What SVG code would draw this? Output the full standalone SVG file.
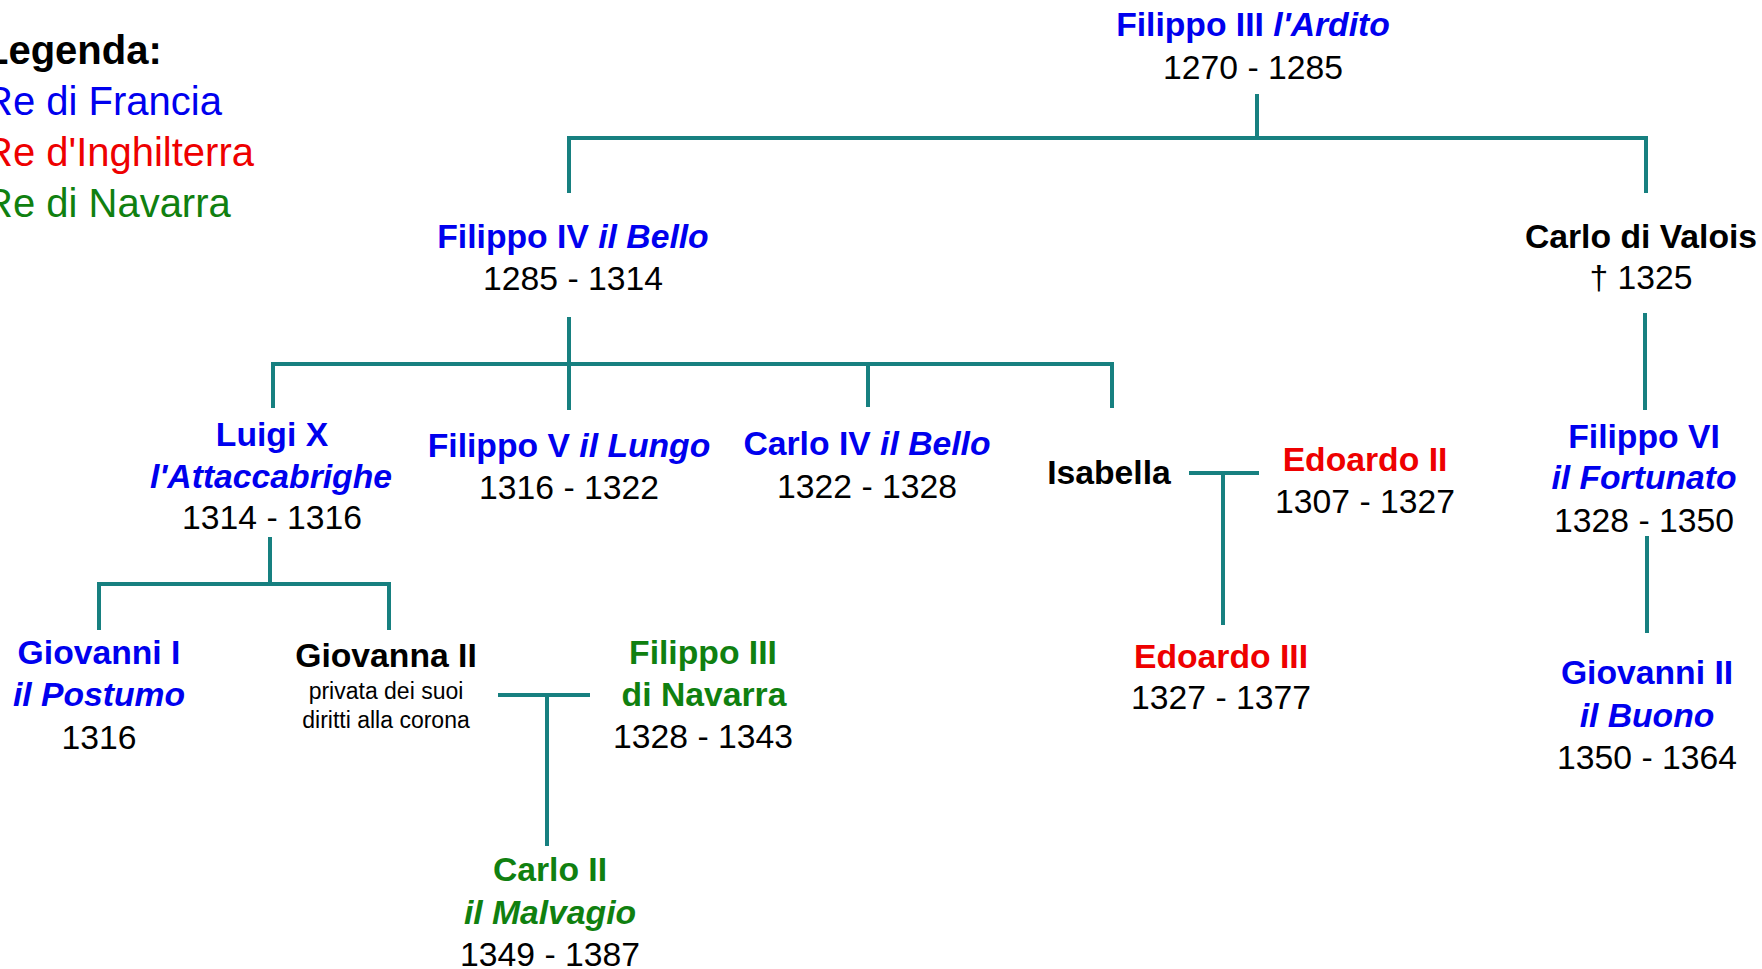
<svg xmlns="http://www.w3.org/2000/svg" width="1762" height="969" viewBox="0 0 1762 969">
<style>
text{font-family:"Liberation Sans",Arial,sans-serif;font-size:33.7px;fill:#000}
.c{text-anchor:middle}
.n{font-weight:bold}
.i{font-style:italic}
.fr{fill:#0000ee}
.en{fill:#ee0000}
.na{fill:#108010}
.sm{font-size:23px}
.lg{font-size:40px}
#connectors line{stroke:#178080;stroke-width:4;fill:none}
</style>
<rect width="1762" height="969" fill="#fff"/>
<g id="legend">
<text class="lg n" x="-16" y="64">Legenda:</text>
<text class="lg fr" x="-16" y="115">Re di Francia</text>
<text class="lg en" x="-16" y="166">Re d'Inghilterra</text>
<text class="lg na" x="-16" y="217">Re di Navarra</text>
</g>
<g id="connectors">
<line x1="1257" y1="94" x2="1257" y2="138"/>
<line x1="567" y1="138" x2="1648" y2="138"/>
<line x1="569" y1="136" x2="569" y2="193"/>
<line x1="1646" y1="136" x2="1646" y2="193"/>
<line x1="569" y1="317" x2="569" y2="410"/>
<line x1="271" y1="364" x2="1114" y2="364"/>
<line x1="273" y1="362" x2="273" y2="408"/>
<line x1="868" y1="364" x2="868" y2="407"/>
<line x1="1112" y1="362" x2="1112" y2="408"/>
<line x1="1645" y1="313" x2="1645" y2="410"/>
<line x1="1189" y1="473" x2="1259" y2="473"/>
<line x1="1223" y1="473" x2="1223" y2="625"/>
<line x1="1647" y1="536" x2="1647" y2="633"/>
<line x1="270" y1="537" x2="270" y2="584"/>
<line x1="97" y1="584" x2="391" y2="584"/>
<line x1="99" y1="582" x2="99" y2="630"/>
<line x1="389" y1="582" x2="389" y2="630"/>
<line x1="498" y1="695" x2="590" y2="695"/>
<line x1="547" y1="695" x2="547" y2="846"/>
</g>
<g id="filippo3">
<text class="c n fr" x="1253" y="36">Filippo III <tspan class="i">l'Ardito</tspan></text>
<text class="c" x="1253" y="79">1270 - 1285</text>
</g>
<g id="filippo4">
<text class="c n fr" x="573" y="248">Filippo IV <tspan class="i">il Bello</tspan></text>
<text class="c" x="573" y="290">1285 - 1314</text>
</g>
<g id="carlovalois">
<text class="c n" x="1641" y="248">Carlo di Valois</text>
<text class="c" x="1641" y="289">† 1325</text>
</g>
<g id="luigi10">
<text class="c n fr" x="272" y="446">Luigi X</text>
<text class="c n i fr" x="271" y="488">l'Attaccabrighe</text>
<text class="c" x="272" y="529">1314 - 1316</text>
</g>
<g id="filippo5">
<text class="c n fr" x="569" y="457">Filippo V <tspan class="i">il Lungo</tspan></text>
<text class="c" x="569" y="499">1316 - 1322</text>
</g>
<g id="carlo4">
<text class="c n fr" x="867" y="455">Carlo IV <tspan class="i">il Bello</tspan></text>
<text class="c" x="867" y="498">1322 - 1328</text>
</g>
<g id="isabella">
<text class="c n" x="1109" y="484">Isabella</text>
</g>
<g id="edoardo2">
<text class="c n en" x="1365" y="471">Edoardo II</text>
<text class="c" x="1365" y="513">1307 - 1327</text>
</g>
<g id="edoardo3">
<text class="c n en" x="1221" y="668">Edoardo III</text>
<text class="c" x="1221" y="709">1327 - 1377</text>
</g>
<g id="filippo6">
<text class="c n fr" x="1644" y="448">Filippo VI</text>
<text class="c n i fr" x="1644" y="489">il Fortunato</text>
<text class="c" x="1644" y="532">1328 - 1350</text>
</g>
<g id="giovanni2">
<text class="c n fr" x="1647" y="684">Giovanni II</text>
<text class="c n i fr" x="1647" y="727">il Buono</text>
<text class="c" x="1647" y="769">1350 - 1364</text>
</g>
<g id="giovanni1">
<text class="c n fr" x="99" y="664">Giovanni I</text>
<text class="c n i fr" x="99" y="706">il Postumo</text>
<text class="c" x="99" y="749">1316</text>
</g>
<g id="giovanna2">
<text class="c n" x="386" y="667">Giovanna II</text>
<text class="c sm" x="386" y="699">privata dei suoi</text>
<text class="c sm" x="386" y="728">diritti alla corona</text>
</g>
<g id="filippo3navarra">
<text class="c n na" x="703" y="664">Filippo III</text>
<text class="c n na" x="704" y="706">di Navarra</text>
<text class="c" x="703" y="748">1328 - 1343</text>
</g>
<g id="carlo2">
<text class="c n na" x="550" y="881">Carlo II</text>
<text class="c n i na" x="550" y="924">il Malvagio</text>
<text class="c" x="550" y="966">1349 - 1387</text>
</g>
</svg>
